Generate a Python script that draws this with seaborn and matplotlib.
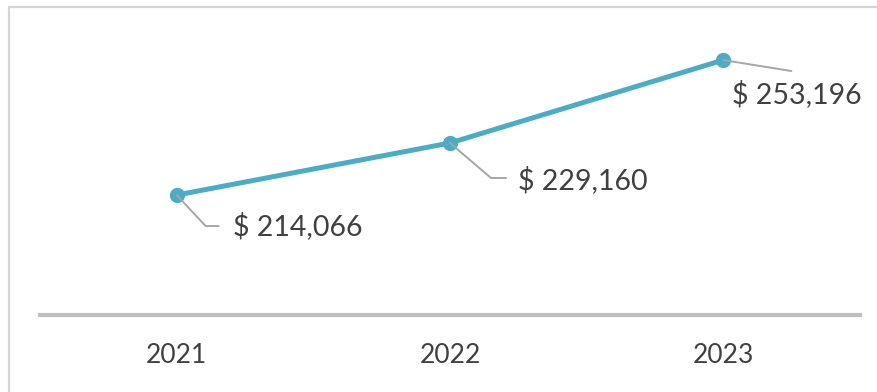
import matplotlib
matplotlib.use("Agg")
import matplotlib.pyplot as plt
import seaborn as sns
import pandas as pd
from matplotlib.lines import Line2D

years = ["2021", "2022", "2023"]
values = [214066, 229160, 253196]
labels = ["$ 214,066", "$ 229,160", "$ 253,196"]

sns.set_theme(style="white")
plt.rcParams["font.family"] = ["Lato", "DejaVu Sans"]

W, H, DPI = 877, 392, 100
fig = plt.figure(figsize=(W / DPI, H / DPI), dpi=DPI)
fig.patch.set_facecolor("white")

ax = fig.add_axes([40 / W, (H - 315) / H, 820 / W, 315 / H])
df = pd.DataFrame({"x": range(len(years)), "value": values})
sns.lineplot(data=df, x="x", y="value", ax=ax, color="#4BACC6", linewidth=3.6,
             marker="o", markersize=11, markeredgewidth=0, zorder=5)

ax.set_xlim(-0.5, len(years) - 0.5)
ax.set_ylim(179300, 270600)
ax.set_xticks(range(len(years)))
ax.set_xticklabels(years, fontsize=19, color="#404040")
ax.set_yticks([])
ax.set_xlabel("")
ax.set_ylabel("")
for s in ["top", "right", "left"]:
    ax.spines[s].set_visible(False)
ax.spines["bottom"].set_color("#bfbfbf")
ax.spines["bottom"].set_linewidth(3)
ax.tick_params(axis="x", length=0, pad=20)
ax.patch.set_alpha(0)

# leader lines (pixel offsets from each point) and label offsets
leaders = [[(0, 0), (29, -31), (42, -31)],
           [(0, 0), (41, -35), (56, -35)],
           [(0, 0), (68, -11)]]
text_off = [(56, -31), (68, -37), (9, -34)]

inv = fig.transFigure.inverted()
for i, v in enumerate(values):
    px, py = ax.transData.transform((i, v))
    pts = [inv.transform((px + dx, py + dy)) for dx, dy in leaders[i]]
    fig.add_artist(Line2D([p[0] for p in pts], [p[1] for p in pts],
                          transform=fig.transFigure, color="#a6a6a6",
                          linewidth=1.4, zorder=1))
    ax.annotate(labels[i], xy=(i, v), xytext=text_off[i],
                textcoords="offset pixels", ha="left", va="center",
                fontsize=20.5, color="#404040")

# outer frame (left and top edges visible)
fig.add_artist(Line2D([9 / W, 9 / W], [0, 1 - 7 / H], transform=fig.transFigure,
                      color="#d4d4d4", linewidth=1.6))
fig.add_artist(Line2D([9 / W, 1], [1 - 7 / H, 1 - 7 / H], transform=fig.transFigure,
                      color="#d4d4d4", linewidth=1.6))

fig.savefig("out.png", dpi=DPI)
